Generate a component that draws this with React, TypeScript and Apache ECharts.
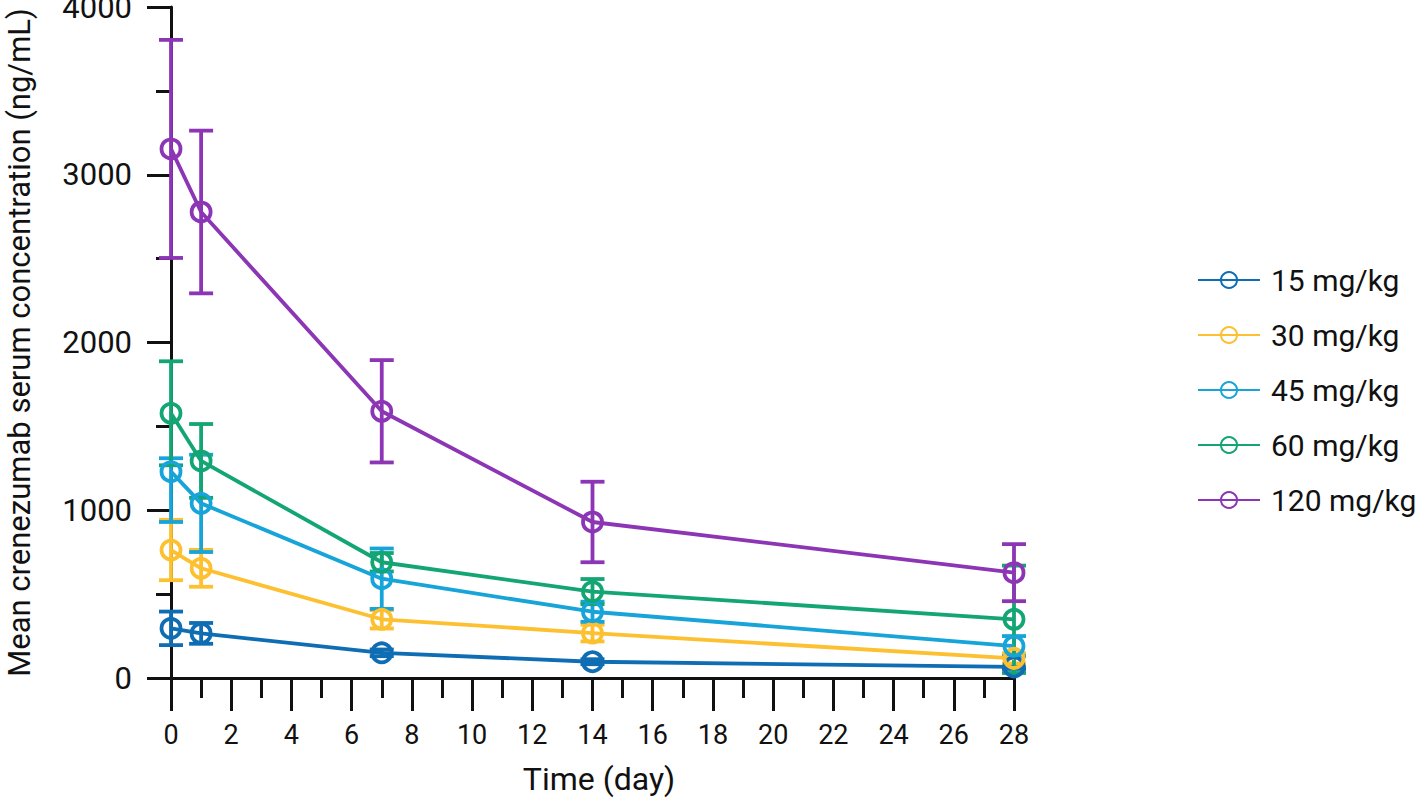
import React, { useEffect, useRef } from "react";
import * as echarts from "echarts";

const days = [0, 1, 7, 14, 28];
const groupNames = ["15 mg/kg", "30 mg/kg", "45 mg/kg", "60 mg/kg", "120 mg/kg"];
const colors = ["#0f6db3", "#fcc030", "#17a4d9", "#13a674", "#8c35b5"];

const mean15 = [296, 266, 150, 97, 66];
const err15 = [100, 62, 20, 15, 12];
const mean30 = [763, 654, 350, 268, 117];
const err30 = [180, 110, 55, 50, 30];
const mean45 = [1230, 1041, 592, 395, 190];
const err45Down = [300, 290, 180, 60, 60];
const err45Up = [80, 290, 180, 60, 60];
const mean60 = [1578, 1294, 690, 515, 350];
const err60 = [310, 220, 55, 75, 320];
const mean120 = [3154, 2778, 1590, 930, 628];
const err120 = [650, 485, 305, 240, 170];

const means = [mean15, mean30, mean45, mean60, mean120];
const errsDown = [err15, err30, err45Down, err60, err120];
const errsUp = [err15, err30, err45Up, err60, err120];

const xTicks = { min: 0, max: 28, interval: 2 };
const yTicks = { min: 0, max: 4000, interval: 1000 };

const FONT = "Roboto, sans-serif";
const LW = 3.8;

export default function App() {
  const ref = useRef<HTMLDivElement>(null);
  useEffect(() => {
    if (!ref.current) return;
    const chart = echarts.init(ref.current, undefined, { renderer: "svg" });
    const series: any[] = [];
    means.forEach((m, gi) => {
      const color = colors[gi];
      series.push({
        type: "custom",
        name: "err" + gi,
        clip: false,
        z: 2,
        encode: { x: 0, y: [1, 2] },
        data: days.map((d, i) => [d, m[i] - errsDown[gi][i], m[i] + errsUp[gi][i]]),
        renderItem: (params: any, api: any) => {
          const x = api.value(0);
          const lo = api.value(1);
          const hi = api.value(2);
          const top = api.coord([x, hi]);
          const bot = api.coord([x, lo]);
          const w = 12;
          const st = { stroke: color, lineWidth: LW };
          return {
            type: "group",
            children: [
              { type: "line", shape: { x1: top[0], y1: top[1], x2: bot[0], y2: bot[1] }, style: st },
              { type: "line", shape: { x1: top[0] - w, y1: top[1], x2: top[0] + w, y2: top[1] }, style: st },
              { type: "line", shape: { x1: bot[0] - w, y1: bot[1], x2: bot[0] + w, y2: bot[1] }, style: st },
            ],
          };
        },
      });
      series.push({
        type: "line",
        name: groupNames[gi],
        z: 3,
        data: days.map((d, i) => [d, m[i]]),
        symbol: "circle",
        symbolSize: 19,
        showAllSymbol: true,
        lineStyle: { color, width: LW },
        itemStyle: { color: "rgba(255,255,255,0)", borderColor: color, borderWidth: LW },
        emphasis: { disabled: true },
      });
    });
    chart.setOption({
      animation: false,
      backgroundColor: "#ffffff",
      grid: { left: 171, top: 7, right: 404, bottom: 122, containLabel: false, outerBoundsMode: "none" },
      legend: {
        data: groupNames,
        orient: "vertical",
        left: 1197,
        top: 265,
        padding: 0,
        itemWidth: 62,
        itemHeight: 20,
        itemGap: 25,
        textStyle: { fontFamily: FONT, fontSize: 30, color: "#111", lineHeight: 30, padding: [0, 0, 0, 6] },
      },
      xAxis: {
        type: "value",
        min: xTicks.min,
        max: xTicks.max,
        interval: xTicks.interval,
        name: "Time (day)",
        nameLocation: "middle",
        nameGap: 85,
        nameTextStyle: { fontFamily: FONT, fontSize: 32, color: "#111", verticalAlign: "top", padding: [0, 0, 0, 13] },
        axisLine: { show: true, lineStyle: { color: "#111", width: 3 } },
        axisTick: { show: true, length: 33, lineStyle: { color: "#111", width: 3 } },
        minorTick: { show: true, splitNumber: 2, length: 20, lineStyle: { color: "#111", width: 3 } },
        axisLabel: { fontFamily: FONT, fontSize: 27, color: "#111", margin: 43 },
        splitLine: { show: false },
        minorSplitLine: { show: false },
      },
      yAxis: {
        type: "value",
        min: yTicks.min,
        max: yTicks.max,
        interval: yTicks.interval,
        name: "Mean crenezumab serum concentration (ng/mL)",
        nameLocation: "middle",
        nameGap: 136,
        nameTextStyle: { fontFamily: FONT, fontSize: 31, color: "#111" },
        axisLine: { show: true, lineStyle: { color: "#111", width: 3 } },
        axisTick: { show: true, length: 24, lineStyle: { color: "#111", width: 3 } },
        minorTick: { show: true, splitNumber: 2, length: 15, lineStyle: { color: "#111", width: 3 } },
        axisLabel: { fontFamily: FONT, fontSize: 31, color: "#111", margin: 39, formatter: (v: number) => String(v) },
        splitLine: { show: false },
        minorSplitLine: { show: false },
      },
      series,
    });
    return () => chart.dispose();
  }, []);
  return (
    <div
      ref={ref}
      style={{ position: "fixed", left: 0, top: 0, width: 1418, height: 800 }}
    />
  );
}
